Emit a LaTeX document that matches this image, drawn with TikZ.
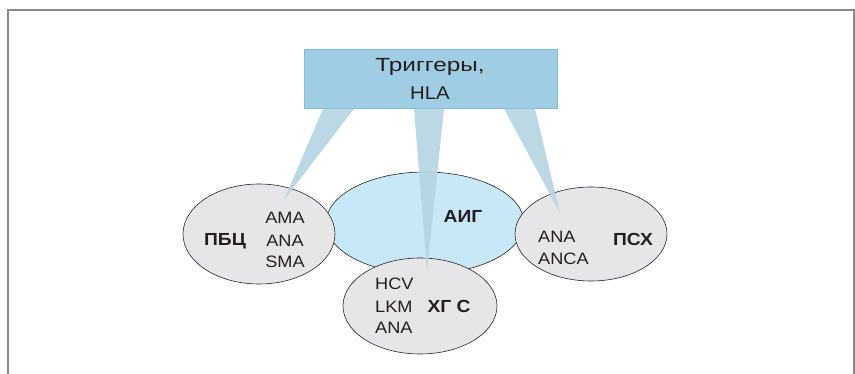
\documentclass[tikz,border=0pt]{standalone}
\usepackage{fontspec}
\setmainfont{Liberation Sans}[FakeStretch=1.1]
\newfontfamily\widefont{Liberation Sans}[FakeStretch=1.28]
\usetikzlibrary{shapes.geometric}
\definecolor{boxfill}{HTML}{9FCDE3}
\definecolor{boxline}{HTML}{7DC0DE}
\definecolor{aigfill}{HTML}{C6E8F7}
\definecolor{grayfill}{HTML}{E6E6E8}
\definecolor{wedgefill}{HTML}{B6D5E3}
\definecolor{framegray}{HTML}{8A8A8A}
\definecolor{txt}{HTML}{231F20}
\tikzset{
  x=1pt,y=-1pt,
  oval/.style={ellipse,draw=black!85,line width=0.6pt,inner sep=0pt},
  wedge/.style={fill=wedgefill,fill opacity=0.92,draw=none},
  lbl/.style={font=\fontsize{16.5}{16.5}\selectfont,text=txt,inner sep=0pt},
  blbl/.style={font=\fontsize{17.5}{17.5}\selectfont\bfseries,text=txt,inner sep=0pt},
}
\begin{document}
\begin{tikzpicture}
\useasboundingbox (0,0) rectangle (855,374);
% frame open at bottom
\draw[framegray,line width=1.4pt] (8,374) -- (8,10) -- (854,10) -- (854,374);
% top box
\node[draw=boxline,fill=boxfill,line width=0.8pt,minimum width=253,minimum height=59,inner sep=0pt,anchor=north west] (trig) at (304,49) {};
\node[font=\fontsize{19}{19}\selectfont\widefont,text=txt,inner sep=0pt,anchor=base] (t1) at (430,72) {Триггеры,};
\node[font=\fontsize{18.5}{18.5}\selectfont,text=txt,inner sep=0pt,anchor=base] (t2) at (430,100) {HLA};
% ellipses
\node[oval,fill=aigfill,minimum width=198,minimum height=102] (aig) at (425,223) {};
\node[oval,fill=grayfill,minimum width=152,minimum height=100] (pbc) at (259,234) {};
\node[oval,fill=grayfill,minimum width=152,minimum height=94] (psh) at (591,234) {};
\node[oval,fill=grayfill,minimum width=154,minimum height=96] (hgs) at (420,306) {};
% wedge tips
\coordinate (tipL) at (284,200);
\coordinate (tipM) at (427,271);
\coordinate (tipR) at (560,213);
\fill[wedge] ([xshift=19]trig.south west) -- ([xshift=50]trig.south west) -- (tipL) -- cycle;
\fill[wedge] ([xshift=110]trig.south west) -- ([xshift=140]trig.south west) -- (tipM) -- cycle;
\fill[wedge] ([xshift=200]trig.south west) -- ([xshift=231]trig.south west) -- (tipR) -- cycle;
% labels
\node[blbl,anchor=base] (aigt) at (463,223) {АИГ};
\node[blbl,anchor=base] (pbct) at (225,246) {ПБЦ};
\node[lbl,anchor=base] (a1) at (285,224) {AMA};
\node[lbl,anchor=base] (a2) at (285,247) {ANA};
\node[lbl,anchor=base] (a3) at (285,268) {SMA};
\node[lbl,anchor=base west] (h1) at (375,290) {HCV};
\node[lbl,anchor=base west] (h2) at (375,313) {LKM};
\node[lbl,anchor=base west] (h3) at (375,334) {ANA};
\node[blbl,anchor=base] (hgst) at (449,313) {ХГ С};
\node[lbl,anchor=base west] (p1) at (538,243) {ANA};
\node[lbl,anchor=base west] (p2) at (538,265) {ANCA};
\node[blbl,anchor=base] (psht) at (633,246) {ПСХ};
\end{tikzpicture}
\end{document}
